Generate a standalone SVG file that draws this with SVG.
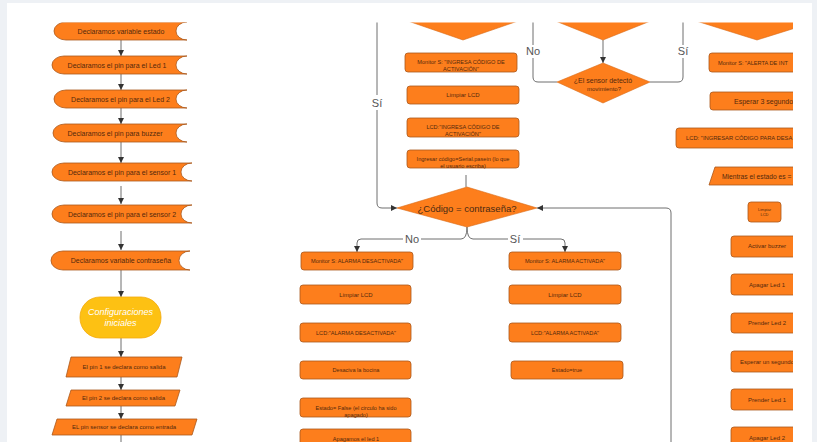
<svg xmlns="http://www.w3.org/2000/svg" width="817" height="442" viewBox="0 0 817 442">
<defs>
<style>
.bx{fill:#fd7e1c;stroke:#a9581c;stroke-width:0.8}
.dm{fill:#fd7e1c;stroke:#d86a16;stroke-width:0.6}
.t{font-family:"Liberation Sans",Arial,sans-serif;fill:#54290c;text-anchor:middle}
.ts{font-family:"Liberation Sans",Arial,sans-serif;fill:#54290c;text-anchor:start}
.s7{font-size:7px}
.s6{font-size:6px}
.s55{font-size:5.6px}
.cn{fill:none;stroke:#6e6e6e;stroke-width:1}
.lb{font-family:"Liberation Sans",Arial,sans-serif;font-size:11px;fill:#555;text-anchor:middle}
</style>
<marker id="ah" viewBox="0 0 10 10" refX="10" refY="5" markerWidth="6" markerHeight="7" orient="auto" markerUnits="userSpaceOnUse"><path d="M0,0 L10,5 L0,10 z" fill="#333"/></marker>
<clipPath id="cp"><rect x="0" y="22.5" width="793" height="420"/></clipPath>
</defs>
<rect x="0" y="0" width="817" height="442" fill="#eef1f5"/>
<rect x="7" y="3" width="805" height="439" fill="#ffffff"/>
<g clip-path="url(#cp)">
<g id="connectors">
<path class="cn" d="M121,40V56" marker-end="url(#ah)"/>
<path class="cn" d="M121,74V90" marker-end="url(#ah)"/>
<path class="cn" d="M121,108V124" marker-end="url(#ah)"/>
<path class="cn" d="M121,142V163" marker-end="url(#ah)"/>
<path class="cn" d="M121,186V204" marker-end="url(#ah)"/>
<path class="cn" d="M121,231V250" marker-end="url(#ah)"/>
<path class="cn" d="M121,270V297" marker-end="url(#ah)"/>
<path class="cn" d="M121,338V357" marker-end="url(#ah)"/>
<path class="cn" d="M121,377V390" marker-end="url(#ah)"/>
<path class="cn" d="M121,406V419" marker-end="url(#ah)"/>
<path class="cn" d="M121,435V442"/>
<path class="cn" d="M377,20V203Q377,208 382,208H397" marker-end="url(#ah)"/>
<path class="cn" d="M557,82H538Q533,82 533,77V20"/>
<path class="cn" d="M650,82H678Q683,82 683,77V20"/>
<path class="cn" d="M603,40V63" marker-end="url(#ah)"/>
<path class="cn" d="M466,175V187"/>
<path class="cn" d="M467,227Q467,239 461,239H361Q357,239 357,243V252" marker-end="url(#ah)"/>
<path class="cn" d="M467,227Q467,239 473,239H561Q565,239 565,243V252" marker-end="url(#ah)"/>
<path class="cn" d="M671,442V213Q671,208 666,208H537" marker-end="url(#ah)"/>
<rect x="369" y="95" width="16" height="15" fill="#fff"/>
<text class="lb" x="377" y="107">Sí</text>
<rect x="524" y="45" width="18" height="13" fill="#fff"/>
<text class="lb" x="533" y="55">No</text>
<rect x="676" y="45" width="14" height="13" fill="#fff"/>
<text class="lb" x="683" y="55">Sí</text>
<rect x="403" y="233" width="18" height="12" fill="#fff"/>
<text class="lb" x="412" y="243">No</text>
<rect x="508" y="233" width="15" height="12" fill="#fff"/>
<text class="lb" x="515" y="243">Sí</text>
</g>

<g id="n-var-estado"><path class="bx" d="M66,22H187A11,9 0 0 0 187,40H66A12,9 0 0 1 66,22Z"/><text class="t s7" x="121" y="33.5">Declaramos variable estado</text></g>
<g id="n-led1"><path class="bx" d="M64,56H187A11,9 0 0 0 187,74H64A12,9 0 0 1 64,56Z"/><text class="t s7" x="117" y="67.5">Declaramos el pin para el Led 1</text></g>
<g id="n-led2"><path class="bx" d="M66,90H187A11,9 0 0 0 187,108H66A12,9 0 0 1 66,90Z"/><text class="t s7" x="120.5" y="101.5">Declaramos el pin para el Led 2</text></g>
<g id="n-buzzer"><path class="bx" d="M65,124H187A11,9 0 0 0 187,142H65A12,9 0 0 1 65,124Z"/><text class="t s7" x="115" y="135.5">Declaramos el pin para buzzer</text></g>
<g id="n-sensor1"><path class="bx" d="M64,163H192A11,9 0 0 0 192,181H64A12,9 0 0 1 64,163Z"/><text class="t s7" x="122" y="174.5">Declaramos el pin para el sensor 1</text></g>
<g id="n-sensor2"><path class="bx" d="M64,205H192A11,9 0 0 0 192,223H64A12,9 0 0 1 64,205Z"/><text class="t s7" x="122" y="216.5">Declaramos el pin para el sensor 2</text></g>
<g id="n-contrasena"><path class="bx" d="M63,251H190A11,9.5 0 0 0 190,270H63A12,9.5 0 0 1 63,251Z"/><text class="t s7" x="121" y="263">Declaramos variable contraseña</text></g>
<g id="n-config"><rect x="80" y="297" width="81" height="41" rx="20" fill="#fdc113" stroke="#f2a90e" stroke-width="0.8"/><text font-family="Liberation Sans, Arial, sans-serif" font-size="9px" font-style="italic" fill="#ffffff" text-anchor="middle" x="120.5" y="315">Configuraciones</text><text font-family="Liberation Sans, Arial, sans-serif" font-size="9px" font-style="italic" fill="#ffffff" text-anchor="middle" x="120.5" y="326">iniciales</text></g>
<g id="n-pin1"><polygon class="bx" points="71,357 182,357 177,377 66,377"/><text class="t s6" x="124" y="369">El pin 1 se declara como salida</text></g>
<g id="n-pin2"><polygon class="bx" points="71,390 180,390 175,406 66,406"/><text class="t s6" x="123.5" y="400">El pin 2 se declara como salida</text></g>
<g id="n-pinsensor"><polygon class="bx" points="57,419 197,419 192,435 52,435"/><text class="t s6" x="124" y="429">EL pin sensor se declara como entrada</text></g>

<g id="n-top-diamond-a"><polygon class="dm" points="405,20 521,20 463,40"/></g>
<g id="n-monitor-ingresa"><rect class="bx" x="405" y="53" width="112" height="19" rx="3"/><text class="t s55" x="461" y="64">Monitor S: "INGRESA CÓDIGO DE</text><text class="t s55" x="461" y="71">ACTIVACIÓN"</text></g>
<g id="n-limpiar-a"><rect class="bx" x="407" y="86" width="112" height="18" rx="3"/><text class="t s6" x="463" y="97">Limpiar LCD</text></g>
<g id="n-lcd-ingresa"><rect class="bx" x="407" y="118" width="112" height="19" rx="3"/><text class="t s55" x="463" y="129">LCD:"INGRESA CÓDIGO DE</text><text class="t s55" x="463" y="136">ACTIVACIÓN"</text></g>
<g id="n-ingresar"><rect class="bx" x="407" y="150" width="112" height="18" rx="3"/><text class="t s55" x="463" y="160.5">Ingresar código=Serial.pasein (lo que</text><text class="t s55" x="463" y="167.5">el usuario escriba)</text></g>
<g id="n-codigo"><polygon class="dm" points="397,208 467,187 537,208 467,227"/><text font-family="Liberation Sans, Arial, sans-serif" font-size="9.5px" fill="#4a2a12" text-anchor="middle" x="467" y="211.5">¿Código = contraseña?</text></g>

<g id="n-top-diamond-b"><polygon class="dm" points="553,20 653,20 603,40"/></g>
<g id="n-sensor"><polygon class="dm" points="557,82 603,63 650,82 603,103"/><text class="t" font-size="7px" x="603" y="82.5">¿El sensor detectó</text><text class="t" font-size="6px" x="604" y="90.5">movimiento?</text></g>

<g id="n-top-diamond-c"><polygon class="dm" points="693,20 821,20 757,40"/></g>
<g id="n-monitor-alerta"><rect class="bx" x="709" y="53" width="110" height="19" rx="3"/><text class="ts s55" x="718" y="64.5">Monitor S: "ALERTA DE INT</text></g>
<g id="n-esperar3"><rect class="bx" x="710" y="92" width="100" height="18" rx="3"/><text class="ts s7" x="734" y="103.5">Esperar 3 segundo</text></g>
<g id="n-lcd-desa"><rect class="bx" x="676" y="128" width="140" height="20" rx="3"/><text class="ts" font-size="5.8px" x="686" y="140">LCD: "INGRESAR CÓDIGO PARA DESA</text></g>
<g id="n-mientras"><polygon class="bx" points="715,167 830,167 825,185 709,185"/><text class="ts" font-size="6.7px" x="722" y="179">Mientras el estado es =</text></g>
<g id="n-limpiar-c"><rect class="bx" x="748" y="202" width="33" height="20" rx="3"/><text class="t" font-size="4px" x="764.5" y="210.5">Limpiar</text><text class="t" font-size="4px" x="764.5" y="216">LCD</text></g>
<g id="n-activar-buzzer"><rect class="bx" x="731" y="236" width="72" height="21" rx="3"/><text class="t s6" x="767" y="248">Activar buzzer</text></g>
<g id="n-apagar-led1"><rect class="bx" x="731" y="274" width="72" height="21" rx="3"/><text class="t s6" x="767" y="286.5">Apagar Led 1</text></g>
<g id="n-prender-led2"><rect class="bx" x="731" y="313" width="72" height="20" rx="3"/><text class="t s6" x="767" y="325">Prender Led 2</text></g>
<g id="n-esperar-uno"><rect class="bx" x="731" y="351" width="72" height="21" rx="3"/><text class="t s6" x="767" y="363.5">Esperar un segundo</text></g>
<g id="n-prender-led1"><rect class="bx" x="731" y="389" width="72" height="21" rx="3"/><text class="t s6" x="767" y="401.5">Prender Led 1</text></g>
<g id="n-apagar-led2"><rect class="bx" x="731" y="427" width="72" height="21" rx="3"/><text class="t s6" x="767" y="439.5">Apagar Led 2</text></g>

<g id="n-monitor-desact"><rect class="bx" x="301" y="252" width="112" height="18" rx="3"/><text class="t s55" x="357" y="263">Monitor S: ALARMA DESACTIVADA"</text></g>
<g id="n-limpiar-d"><rect class="bx" x="300" y="285" width="111" height="19" rx="3"/><text class="t s6" x="356" y="296.5">Limpiar LCD</text></g>
<g id="n-lcd-desact"><rect class="bx" x="300" y="323" width="111" height="19" rx="3"/><text class="t s55" x="356" y="334.5">LCD:"ALARMA DESACTIVADA"</text></g>
<g id="n-bocina"><rect class="bx" x="300" y="361" width="111" height="18" rx="3"/><text class="t s55" x="356" y="371.5">Desaciva la bocina</text></g>
<g id="n-estado-false"><rect class="bx" x="300" y="398" width="111" height="19" rx="3"/><text class="t s55" x="356" y="409.5">Estado= False (el circulo ha sido</text><text class="t s55" x="356" y="416.5">apagado)</text></g>
<g id="n-apagamos-led1"><rect class="bx" x="300" y="429" width="111" height="20" rx="3"/><text class="t s55" x="356" y="440.5">Apagamos el led 1</text></g>

<g id="n-monitor-act"><rect class="bx" x="509" y="252" width="112" height="18" rx="3"/><text class="t s55" x="565" y="263">Monitor S: ALARMA ACTIVADA"</text></g>
<g id="n-limpiar-e"><rect class="bx" x="509" y="285" width="112" height="19" rx="3"/><text class="t s6" x="565" y="296.5">Limpiar LCD</text></g>
<g id="n-lcd-act"><rect class="bx" x="509" y="323" width="112" height="19" rx="3"/><text class="t s55" x="565" y="334.5">LCD:"ALARMA ACTIVADA"</text></g>
<g id="n-estado-true"><rect class="bx" x="511" y="361" width="112" height="18" rx="3"/><text class="t s55" x="567" y="371.5">Estado=true</text></g>
</g>
</svg>
